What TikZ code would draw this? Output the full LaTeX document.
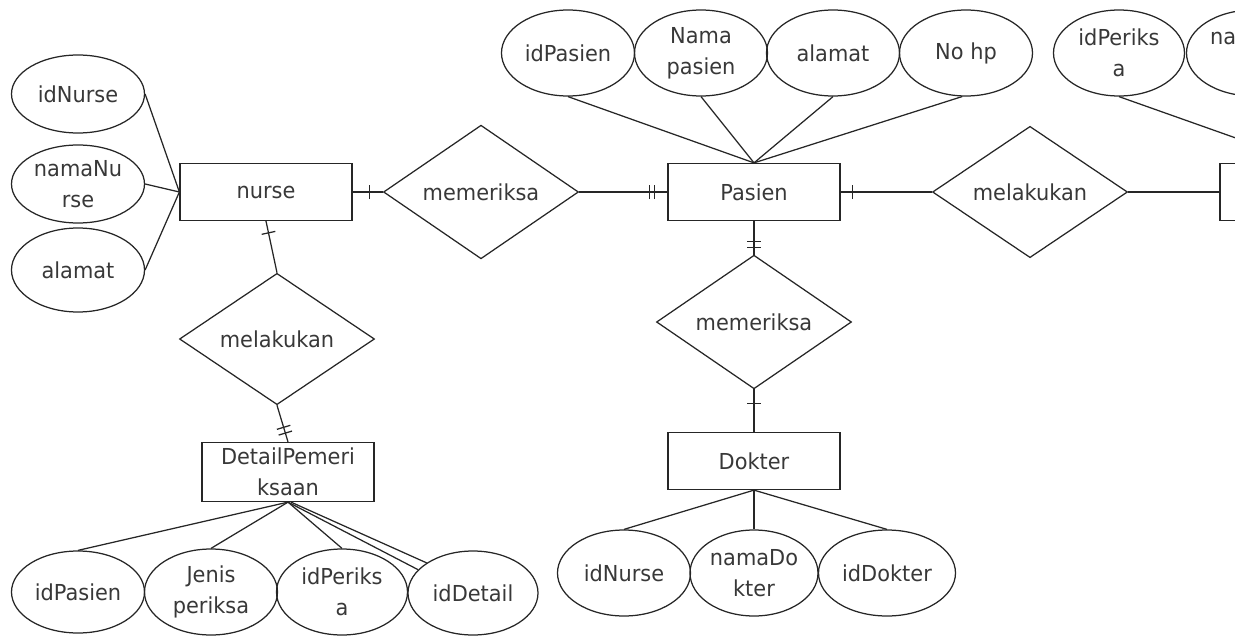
\documentclass[tikz,border=0pt]{standalone}
\usepackage{fontspec}
\setmainfont{DejaVu Sans}[FakeStretch=0.95]
\usetikzlibrary{shapes.geometric,decorations.markings}

\tikzset{
  base/.style={draw=black!85, line width=1.25pt, text=black!78, font=\fontsize{22}{31}\selectfont, inner sep=0pt, align=center},
  ent/.style={base, rectangle, minimum width=172pt, minimum height=57pt},
  attr/.style={base, ellipse, minimum width=133pt, minimum height=86pt},
  rel/.style={base, diamond, minimum width=195pt, minimum height=123pt},
  conn/.style={draw=black!85, line width=1.25pt},
  onebar/.style={postaction={decorate}, decoration={markings, mark=at position #1 with {\draw[conn] (0pt,-7pt) -- (0pt,7pt);}}},
  twobar/.style 2 args={postaction={decorate}, decoration={markings,
      mark=at position #1 with {\draw[conn] (0pt,-7pt) -- (0pt,7pt);},
      mark=at position #2 with {\draw[conn] (0pt,-7pt) -- (0pt,7pt);}}}
}

\begin{document}
\begin{tikzpicture}[x=1pt,y=-1pt]
\useasboundingbox (0,0) rectangle (1235,637);
\clip (0,0) rectangle (1235,637);

% entities
\node[ent] (nurse) at (266,192) {nurse};
\node[ent] (pasien) at (754,192) {Pasien};
\node[ent] (dokter) at (754,461) {Dokter};
\node[ent, minimum height=59pt] (detail) at (288,472) {DetailPemeri\\ksaan};
\node[ent] (rEnt) at (1306,192) {};

% relationships
\node[rel] (mem1) at (481,192) {memeriksa};
\node[rel] (mel1) at (1030,192) {melakukan};
\node[rel] (mem2) at (754,322) {memeriksa};
\node[rel] (mel2) at (277,339) {melakukan};

% nurse attributes
\node[attr, minimum height=78pt] (idNurse) at (78,94) {idNurse};
\node[attr, minimum height=78pt] (namaNurse) at (78,184) {namaNu\\rse};
\node[attr, minimum height=84pt] (alamatN) at (78,270) {alamat};

% pasien attributes
\node[attr] (idPasien) at (568,53) {idPasien};
\node[attr] (namaPasien) at (701,53) {Nama\\pasien};
\node[attr] (alamatP) at (833,53) {alamat};
\node[attr] (noHp) at (966,53) {No hp};

% right attributes (cut off)
\node[attr, minimum width=131pt] (idPeriksaR) at (1119,53) {idPeriks\\a};
\node[attr] (naAttr) at (1253,53) {};
\node[anchor=base west, font=\fontsize{22}{31}\selectfont, text=black!78, inner sep=0pt] (naText) at (1210,45) {na};

% dokter attributes
\node[attr] (idNurseD) at (624,573) {idNurse};
\node[attr, minimum width=128pt] (namaDokter) at (754,573) {namaDo\\kter};
\node[attr, minimum width=137pt] (idDokter) at (887,573) {idDokter};

% detail attributes
\node[attr, minimum height=82pt] (idPasienD) at (78,592) {idPasien};
\node[attr] (jenis) at (211,592) {Jenis\\periksa};
\node[attr, minimum width=131pt] (idPeriksaD) at (342,592) {idPeriks\\a};
\node[attr, minimum width=130pt, minimum height=84pt] (idDetail) at (473,593) {idDetail};

% attribute connectors
\draw[conn] (idNurse.east) -- (nurse.west);
\draw[conn] (namaNurse.east) -- (nurse.west);
\draw[conn] (alamatN.east) -- (nurse.west);

\draw[conn] (idPasien.south) -- (pasien.north);
\draw[conn] (namaPasien.south) -- (pasien.north);
\draw[conn] (alamatP.south) -- (pasien.north);
\draw[conn] (noHp.265) -- (pasien.north);

\draw[conn] (idPeriksaR.south) -- (rEnt.north);

\draw[conn] (dokter.south) -- (idNurseD.north);
\draw[conn] (dokter.south) -- (namaDokter.north);
\draw[conn] (dokter.south) -- (idDokter.north);

\draw[conn] (detail.south) -- (idPasienD.north);
\draw[conn] (detail.south) -- (jenis.north);
\draw[conn] (detail.south) -- (idPeriksaD.north);
\draw[conn] (detail.south) -- (idDetail.157);
\draw[conn] ([xshift=3pt]detail.south) -- (idDetail.147);

% relationship connectors
\draw[conn, onebar=17pt] (nurse.east) -- (mem1.west);
\draw[conn, twobar={70pt}{75pt}] (mem1.east) -- (pasien.west);
\draw[conn, onebar=12pt] (pasien.east) -- (mel1.west);
\draw[conn] (mel1.east) -- (rEnt.west);
\draw[conn, twobar={20pt}{26pt}] (pasien.south) -- (mem2.north);
\draw[conn, onebar=14pt] (mem2.south) -- (dokter.north);
\draw[conn, onebar=12pt] (nurse.south) -- (mel2.north);
\draw[conn, twobar={23pt}{29pt}] (mel2.south) -- (detail.north);
\end{tikzpicture}
\end{document}
